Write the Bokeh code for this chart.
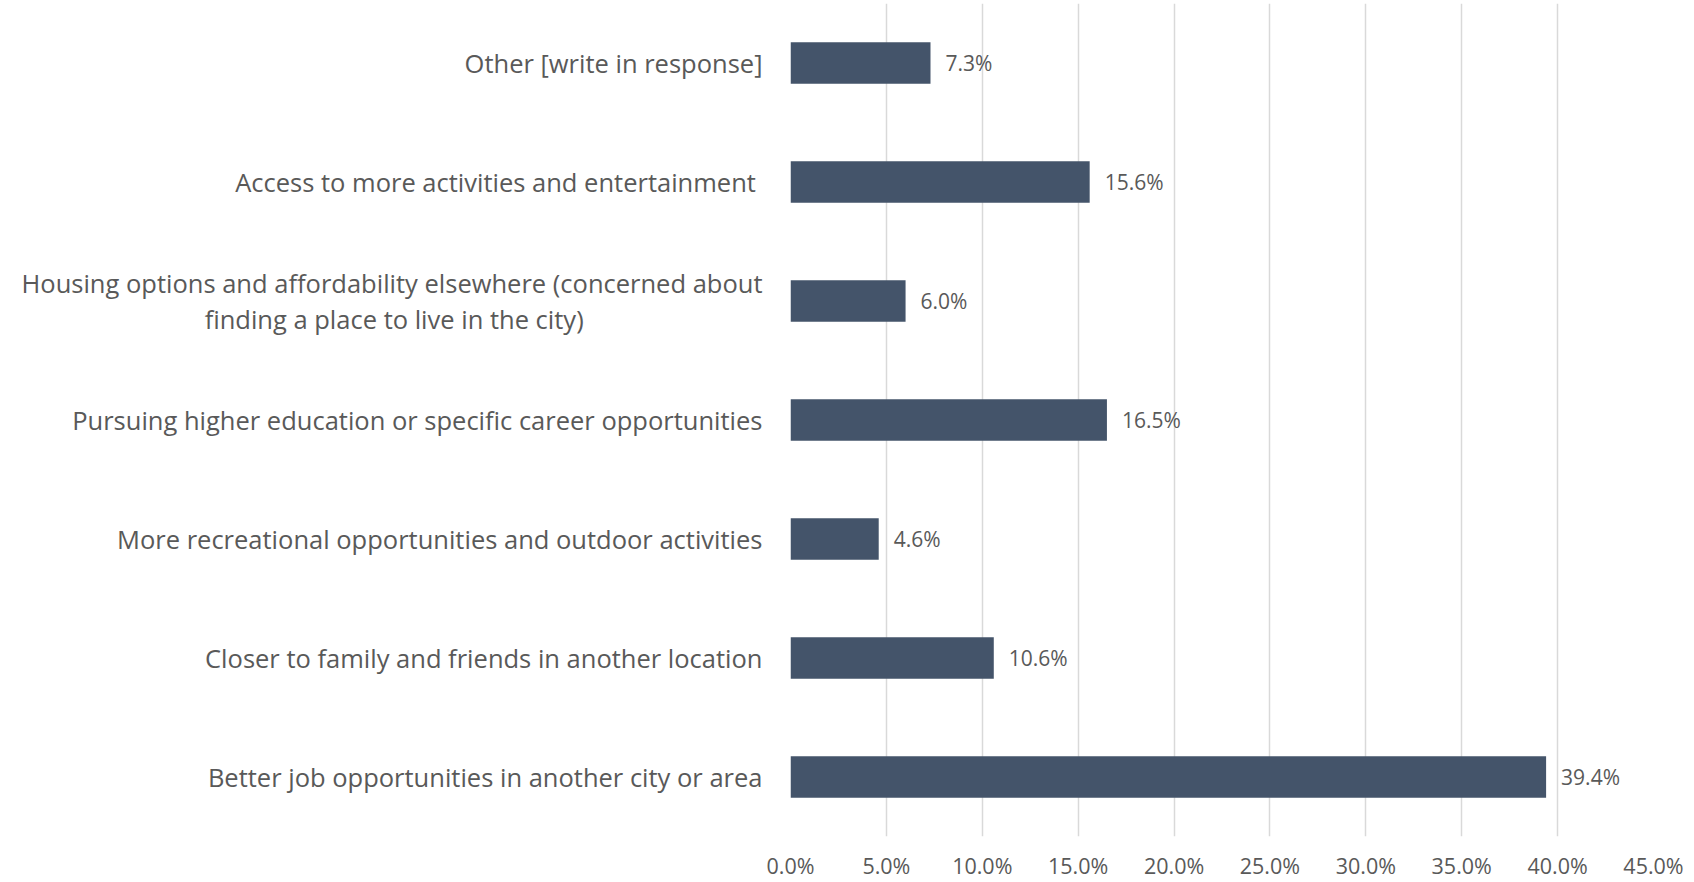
from bokeh.plotting import figure
from bokeh.models import FactorRange, Range1d, FixedTicker, PrintfTickFormatter, ColumnDataSource
from bokeh.core.properties import value
from bokeh.embed import file_html
from bokeh.resources import INLINE

# Data (bottom to top); the second line of the two-line label is padded so it sits centred
categories = [
    "Better job opportunities in another city or area",
    "Closer to family and friends in another location",
    "More recreational opportunities and outdoor activities",
    "Pursuing higher education or specific career opportunities",
    "Housing options and affordability elsewhere (concerned about\nfinding a place to live in the city)" + "\u00a0" * 27,
    "Access to more activities and entertainment ",
    "Other [write in response]",
]
values = [39.4, 10.6, 4.6, 16.5, 6.0, 15.6, 7.3]
tick_values = [0, 5, 10, 15, 20, 25, 30, 35, 40, 45]

labels = [f"{v:.1f}%" for v in values]
src = ColumnDataSource(dict(cat=categories, val=values, lab=labels))

TEXT = "#595959"
FONT = "Open Sans"

p = figure(
    width=1690, height=882,
    y_range=FactorRange(factors=categories),
    x_range=Range1d(0, 45),
    output_backend="svg", toolbar_location=None,
    min_border_left=790, min_border_right=37, min_border_top=3, min_border_bottom=44,
)
p.outline_line_color = None
p.background_fill_color = "white"

p.hbar(y="cat", right="val", left=0, height=0.35, source=src,
       fill_color="#44546A", line_color=None)

p.text(x="val", y="cat", text="lab", source=src, x_offset=15,
       text_align="left", text_baseline="middle",
       text_font=value(FONT), text_font_size="21px", text_color=TEXT)

# x axis
p.xaxis.ticker = FixedTicker(ticks=tick_values)
p.xaxis.formatter = PrintfTickFormatter(format="%.1f%%")
p.xaxis.axis_line_color = None
p.xaxis.major_tick_line_color = None
p.xaxis.minor_tick_line_color = None
p.xaxis.major_tick_out = 0
p.xaxis.major_tick_in = 0
p.xaxis.major_label_standoff = 14
p.xaxis.major_label_text_font = FONT
p.xaxis.major_label_text_font_size = "21.5px"
p.xaxis.major_label_text_color = TEXT

# y axis
p.yaxis.axis_line_color = None
p.yaxis.major_tick_line_color = None
p.yaxis.minor_tick_line_color = None
p.yaxis.major_tick_out = 0
p.yaxis.major_tick_in = 0
p.yaxis.major_label_standoff = 28
p.yaxis.major_label_text_font = FONT
p.yaxis.major_label_text_font_size = "25.5px"
p.yaxis.major_label_text_color = TEXT
p.yaxis.major_label_text_line_height = 1.03

p.ygrid.grid_line_color = None
p.xgrid.grid_line_color = "#D9D9D9"
p.xgrid.grid_line_width = 1.5

open("out.html", "w").write(file_html(p, INLINE))
